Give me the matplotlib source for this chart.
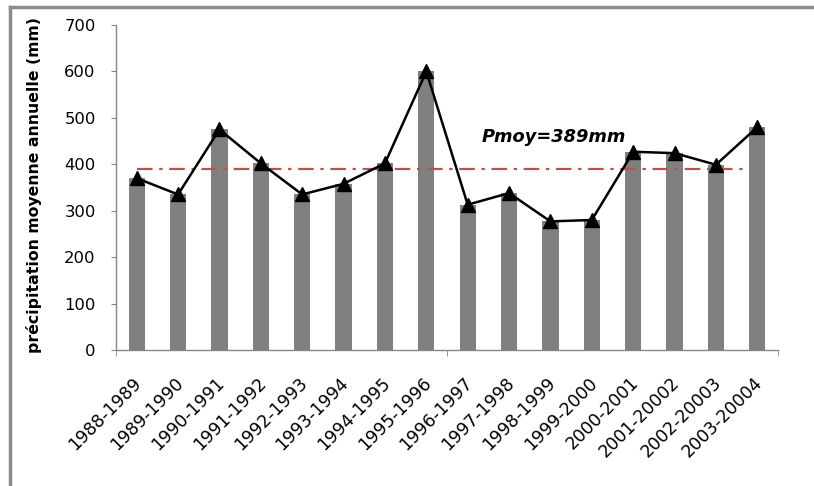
import numpy as np
import matplotlib.pyplot as plt
import matplotlib.transforms as mtransforms
from matplotlib.lines import Line2D

# données
annees = ['1988-1989', '1989-1990', '1990-1991', '1991-1992', '1992-1993',
          '1993-1994', '1994-1995', '1995-1996', '1996-1997', '1997-1998',
          '1998-1999', '1999-2000', '2000-2001', '2001-20002', '2002-20003',
          '2003-20004']
precip = [370, 335, 475, 402, 335, 358, 402, 600, 313, 338, 277, 280,
          427, 424, 399, 480]
pmoy = 389

plt.rcParams['font.family'] = ['DejaVu Sans']

fig = plt.figure(figsize=(8.14, 4.86), dpi=100)
ax = fig.add_axes([116/814, 1-350/486, (778-116)/814, (350-25)/486])

x = np.arange(len(annees))
ax.bar(x, precip, width=0.39, color='#808080', zorder=1)
ax.plot(x, precip, color='black', lw=1.8, marker='^', ms=10, zorder=3)
ax.hlines(pmoy, 0, len(annees)-1.23, colors='#c0504d', linestyles=(0, (7, 3, 1.5, 3)),
          lw=1.6, zorder=2)
ax.text(10.08, 459, 'Pmoy=389mm', fontsize=12.8, fontweight='bold', style='italic',
        ha='center', va='center')

ax.set_xlim(-0.5, len(annees)-0.5)
ax.set_ylim(0, 700)
ax.set_yticks(range(0, 701, 100))
ax.set_xticks(x)
ax.set_xticklabels(annees, rotation=45, ha='right', rotation_mode='anchor')
ax.set_xticks([-0.5, 7.5, 15.5], minor=True)
ax.tick_params(axis='x', which='major', length=0, pad=17, labelsize=12.5, colors='black')
ax.tick_params(axis='x', which='minor', length=4.5, color='#868686', direction='out')
ax.tick_params(axis='y', length=3.6, color='#868686', labelsize=11.8, pad=11)

decal = mtransforms.ScaledTranslation(-4/100, 0, fig.dpi_scale_trans)
for lab in ax.get_xticklabels():
    lab.set_transform(lab.get_transform() + decal)

for s in ['top', 'right']:
    ax.spines[s].set_visible(False)
for s in ['left', 'bottom']:
    ax.spines[s].set_color('#868686')
    ax.spines[s].set_linewidth(1)

ax.set_ylabel('précipitation moyenne annuelle (mm)', fontsize=11.3, fontweight='bold')
ax.yaxis.set_label_coords(-0.112, 0.508)

# cadre
fig.add_artist(Line2D([10/814, 10/814], [0, 1-7/486], color='#8c8c8c', lw=2.5,
                      transform=fig.transFigure))
fig.add_artist(Line2D([10/814, 1], [1-7/486, 1-7/486], color='#8c8c8c', lw=2.5,
                      transform=fig.transFigure))

fig.savefig('out.png', dpi=100)
